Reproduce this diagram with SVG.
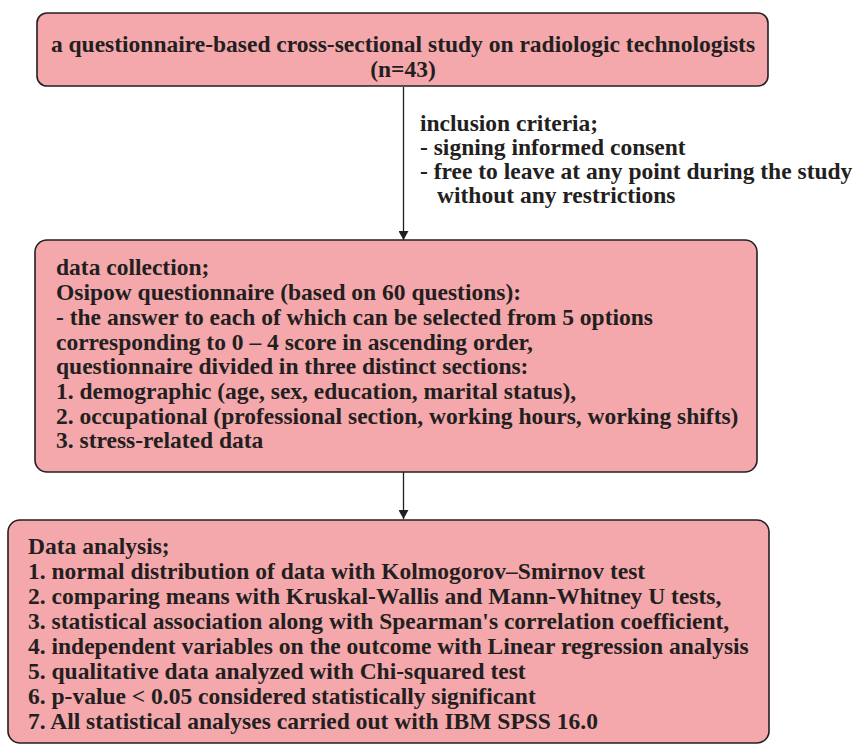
<svg xmlns="http://www.w3.org/2000/svg" width="853" height="744" viewBox="0 0 853 744">
<defs>
<style>
.box{fill:#F4A8AC;stroke:#231F20;stroke-width:1.6}
.t{font-family:"Liberation Serif","Times New Roman",serif;font-weight:bold;font-size:23.5px;fill:#231F20}
.c{text-anchor:middle}
.ln{stroke:#231F20;stroke-width:1.3;fill:none}
</style>
<marker id="ah" viewBox="0 0 10 10" refX="10" refY="5" markerWidth="9" markerHeight="10" markerUnits="userSpaceOnUse" orient="auto" preserveAspectRatio="none">
<path d="M0,0 L10,5 L0,10 z" fill="#231F20"/>
</marker>
</defs>
<rect width="853" height="744" fill="#fff"/>
<g id="connectors">
<line class="ln" x1="403.5" y1="87" x2="403.5" y2="240" marker-end="url(#ah)"/>
<line class="ln" x1="403.5" y1="472" x2="403.5" y2="519" marker-end="url(#ah)"/>
<g id="inclusion-label">
<text class="t" x="420" y="131">inclusion criteria;</text>
<text class="t" x="420" y="155">- signing informed consent</text>
<text class="t" x="420" y="179">- free to leave at any point during the study</text>
<text class="t" x="437" y="203">without any restrictions</text>
</g>
</g>
<g id="node-study">
<rect class="box" x="37" y="13" width="731" height="73" rx="10"/>
<text class="t c" x="403" y="52">a questionnaire-based cross-sectional study on radiologic technologists</text>
<text class="t c" x="403" y="77">(n=43)</text>
</g>
<g id="node-collection">
<rect class="box" x="35" y="240" width="722" height="232" rx="12"/>
<text class="t" x="56" y="275">data collection;</text>
<text class="t" x="56" y="300">Osipow questionnaire (based on 60 questions):</text>
<text class="t" x="56" y="325">- the answer to each of which can be selected from 5 options</text>
<text class="t" x="56" y="350">corresponding to 0 – 4 score in ascending order,</text>
<text class="t" x="56" y="374">questionnaire divided in three distinct sections:</text>
<text class="t" x="56" y="399">1. demographic (age, sex, education, marital status),</text>
<text class="t" x="56" y="424">2. occupational (professional section, working hours, working shifts)</text>
<text class="t" x="56" y="448">3. stress-related data</text>
</g>
<g id="node-analysis">
<rect class="box" x="8" y="520" width="761" height="223" rx="12"/>
<text class="t" x="28" y="554">Data analysis;</text>
<text class="t" x="28" y="579">1. normal distribution of data with Kolmogorov–Smirnov test</text>
<text class="t" x="28" y="604">2. comparing means with Kruskal-Wallis and Mann-Whitney U tests,</text>
<text class="t" x="28" y="629">3. statistical association along with Spearman's correlation coefficient,</text>
<text class="t" x="28" y="654">4. independent variables on the outcome with Linear regression analysis</text>
<text class="t" x="28" y="679">5. qualitative data analyzed with Chi-squared test</text>
<text class="t" x="28" y="704">6. p-value &lt; 0.05 considered statistically significant</text>
<text class="t" x="28" y="729">7. All statistical analyses carried out with IBM SPSS 16.0</text>
</g>
</svg>
